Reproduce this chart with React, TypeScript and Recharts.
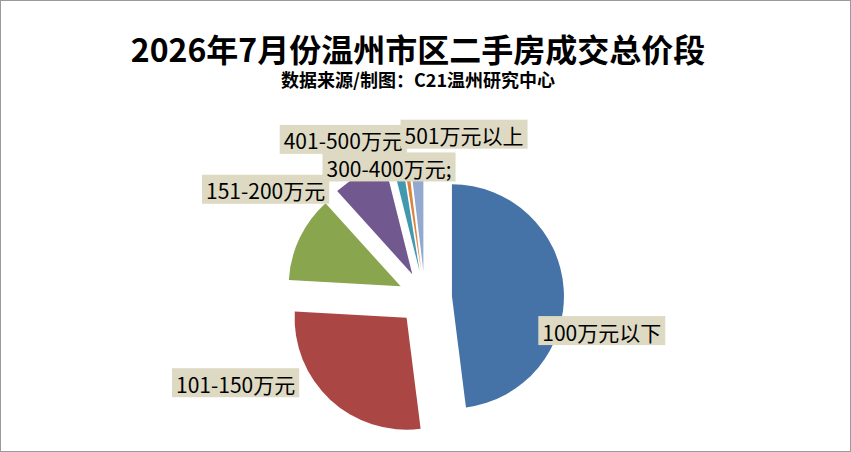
import React from 'react';
import { PieChart, Pie, Cell, Sector } from 'recharts';

const categories = ['100万元以下', '101-150万元', '151-200万元', '201-300万元', '300-400万元', '401-500万元', '501万元以上'];
const shares = [48.0, 27.9, 12.4, 7.8, 1.4, 0.6, 1.9];
const labelTexts = ['100万元以下', '101-150万元', '151-200万元', '', '300-400万元;', '401-500万元', '501万元以上'];
const colors = ['#4572A7', '#AA4643', '#89A54E', '#71588F', '#4198AF', '#DB843D', '#93A9CF'];
const titleText = '2026年7月份温州市区二手房成交总价段';
const subtitleText = '数据来源/制图：C21温州研究中心';

const labelOffsets: [number, number][] = [
  [27, 42],
  [-87, -25],
  [-24, -44],
  [0, 0],
  [-6, 16],
  [-61, -10],
  [48, -14],
];

const data = categories.map((name, i) => ({ name, value: shares[i] }));

const EXPLODE = 27;
const RAD = Math.PI / 180;
const LABEL_FONT = 21;
const FONT = '"Noto Sans CJK SC", "Noto Sans", sans-serif';

let ctx: CanvasRenderingContext2D | null = null;
function measure(text: string): number {
  if (!ctx) {
    const c = document.createElement('canvas');
    ctx = c.getContext('2d');
  }
  if (!ctx) return text.length * LABEL_FONT * 0.8;
  ctx.font = `${LABEL_FONT}px "Noto Sans CJK SC"`;
  return ctx.measureText(text).width;
}

function ExplodedSector(props: any) {
  const { cx, cy, midAngle, fill, innerRadius, outerRadius, startAngle, endAngle } = props;
  const dx = EXPLODE * Math.cos(-midAngle * RAD);
  const dy = EXPLODE * Math.sin(-midAngle * RAD);
  return (
    <Sector
      cx={cx + dx}
      cy={cy + dy}
      innerRadius={innerRadius}
      outerRadius={outerRadius}
      startAngle={startAngle}
      endAngle={endAngle}
      fill={fill}
      stroke="none"
    />
  );
}

function renderLabel(props: any) {
  const { cx, cy, midAngle, outerRadius, index } = props;
  const text = labelTexts[index];
  if (!text) return null;
  const r = outerRadius * 1.34;
  const ax = cx + r * Math.cos(-midAngle * RAD) + labelOffsets[index][0];
  const ay = cy + r * Math.sin(-midAngle * RAD) + labelOffsets[index][1];
  const w = measure(text) + 8;
  const h = 29;
  return (
    <g key={`lbl-${index}`}>
      <rect x={ax - w / 2} y={ay - h / 2} width={w} height={h} fill="#DDD9C3" />
      <text
        x={ax}
        y={ay + 1}
        textAnchor="middle"
        dominantBaseline="central"
        fontSize={LABEL_FONT}
        fontFamily={FONT}
        fill="#000"
      >
        {text}
      </text>
    </g>
  );
}

export default function App() {
  return (
    <div style={{ position: 'absolute', left: 0, top: 0, width: 851, height: 452, background: '#fff', overflow: 'hidden' }}>
      <div
        style={{
          position: 'absolute',
          left: 0,
          top: 30,
          width: 836,
          textAlign: 'center',
          fontFamily: FONT,
          fontWeight: 700,
          fontSize: 32,
          lineHeight: '36px',
          color: '#000',
        }}
      >
        {titleText}
      </div>
      <div
        style={{
          position: 'absolute',
          left: 0,
          top: 68,
          width: 836,
          textAlign: 'center',
          fontFamily: FONT,
          fontWeight: 700,
          fontSize: 18,
          lineHeight: '22px',
          color: '#000',
        }}
      >
        {subtitleText}
      </div>
      <div style={{ position: 'absolute', left: 0, top: 0 }}>
        <PieChart width={851} height={452} margin={{ top: 0, right: 0, bottom: 0, left: 0 }}>
          <Pie
            data={data}
            dataKey="value"
            nameKey="name"
            cx={425}
            cy={298}
            outerRadius={112}
            startAngle={90}
            endAngle={-270}
            stroke="none"
            isAnimationActive={false}
            labelLine={false}
            label={renderLabel}
            shape={ExplodedSector}
            activeShape={ExplodedSector}
            inactiveShape={ExplodedSector}
          >
            {data.map((d, i) => (
              <Cell key={d.name} fill={colors[i]} />
            ))}
          </Pie>
        </PieChart>
      </div>
      <div
        style={{
          position: 'absolute',
          left: 0,
          top: 0,
          width: 851,
          height: 452,
          boxSizing: 'border-box',
          border: '1px solid #9a9a9a',
          pointerEvents: 'none',
        }}
      />
    </div>
  );
}
